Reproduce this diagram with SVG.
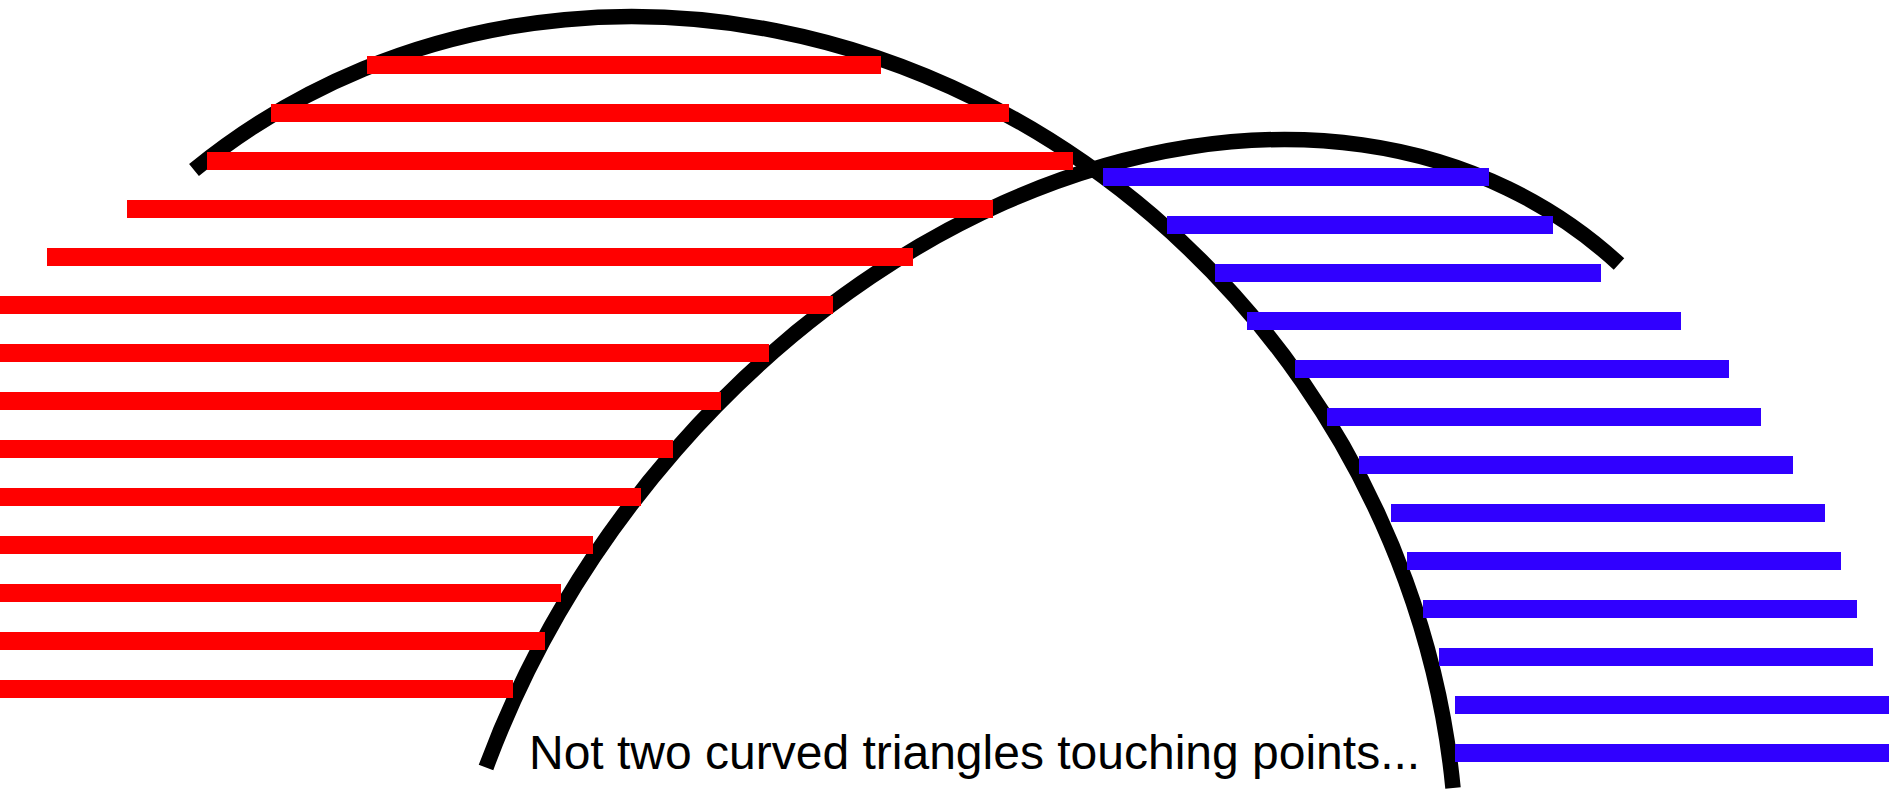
<svg xmlns="http://www.w3.org/2000/svg" width="1892" height="793" viewBox="0 0 1892 793">
  <style>
    .arc { fill: none; stroke: #000000; stroke-width: 15.5; stroke-linecap: butt; }
    .red { fill: #ff0000; }
    .blue { fill: #3000ff; }
    .caption { font-family: "Liberation Sans", Arial, sans-serif; font-size: 48px; fill: #000000; }
  </style>
  <rect x="0" y="0" width="1892" height="793" fill="#ffffff"/>
  <g id="arcs">
    <path id="arc-left" class="arc" d="M 194 170 A 805.1 734.6 54.1 0 1 1453 788"/>
    <path id="arc-right" class="arc" d="M 486 767.5 A 796.3 602.2 -53.47 0 1 1619 264"/>
  </g>
  <g id="red-bars">
    <rect class="red" x="367" y="56" width="514" height="18"/>
    <rect class="red" x="271" y="104" width="738" height="18"/>
    <rect class="red" x="207" y="152" width="866" height="18"/>
    <rect class="red" x="127" y="200" width="866" height="18"/>
    <rect class="red" x="47" y="248" width="866" height="18"/>
    <rect class="red" x="0" y="296" width="833" height="18"/>
    <rect class="red" x="0" y="344" width="769" height="18"/>
    <rect class="red" x="0" y="392" width="721" height="18"/>
    <rect class="red" x="0" y="440" width="673" height="18"/>
    <rect class="red" x="0" y="488" width="641" height="18"/>
    <rect class="red" x="0" y="536" width="593" height="18"/>
    <rect class="red" x="0" y="584" width="561" height="18"/>
    <rect class="red" x="0" y="632" width="545" height="18"/>
    <rect class="red" x="0" y="680" width="513" height="18"/>
  </g>
  <g id="blue-bars">
    <rect class="blue" x="1103" y="168" width="386" height="18"/>
    <rect class="blue" x="1167" y="216" width="386" height="18"/>
    <rect class="blue" x="1215" y="264" width="386" height="18"/>
    <rect class="blue" x="1247" y="312" width="434" height="18"/>
    <rect class="blue" x="1295" y="360" width="434" height="18"/>
    <rect class="blue" x="1327" y="408" width="434" height="18"/>
    <rect class="blue" x="1359" y="456" width="434" height="18"/>
    <rect class="blue" x="1391" y="504" width="434" height="18"/>
    <rect class="blue" x="1407" y="552" width="434" height="18"/>
    <rect class="blue" x="1423" y="600" width="434" height="18"/>
    <rect class="blue" x="1439" y="648" width="434" height="18"/>
    <rect class="blue" x="1455" y="696" width="434" height="18"/>
    <rect class="blue" x="1455" y="744" width="434" height="18"/>
  </g>
  <g id="caption">
    <text class="caption" x="529" y="769">Not two curved triangles touching points...</text>
  </g>
</svg>
